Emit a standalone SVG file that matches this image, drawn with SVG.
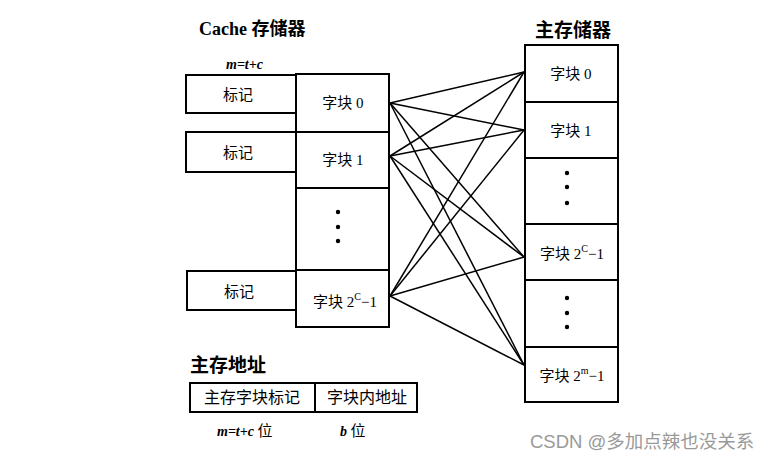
<svg xmlns="http://www.w3.org/2000/svg" width="776" height="461" viewBox="0 0 776 461">
<style>
.box{fill:#fff;stroke:#000;stroke-width:2}
.t{font-family:"Liberation Serif","Noto Sans CJK SC",serif;font-size:15px;fill:#000;text-anchor:middle}
.h{font-family:"Liberation Serif","Noto Sans CJK SC",serif;font-size:18px;fill:#000;font-weight:bold}
.i{font-family:"Liberation Serif","Noto Sans CJK SC",serif;font-size:14px;font-style:italic;font-weight:bold;fill:#000}
.c{stroke:#000;stroke-width:1.5;fill:none}
.dot{fill:#000}
</style>
<rect width="776" height="461" fill="#fff"/>
<text class="h" x="199" y="35">Cache 存储器</text>
<text class="h" x="535" y="37" style="font-size:19px">主存储器</text>
<text class="i" x="226" y="69">m=t+c</text>
<g id="connectors">
<line class="c" x1="390" y1="103" x2="524" y2="72"/>
<line class="c" x1="390" y1="103" x2="524" y2="130"/>
<line class="c" x1="390" y1="103" x2="524" y2="257"/>
<line class="c" x1="390" y1="103" x2="524" y2="365"/>
<line class="c" x1="390" y1="156" x2="524" y2="72"/>
<line class="c" x1="390" y1="156" x2="524" y2="130"/>
<line class="c" x1="390" y1="156" x2="524" y2="257"/>
<line class="c" x1="390" y1="156" x2="524" y2="365"/>
<line class="c" x1="390" y1="296" x2="524" y2="72"/>
<line class="c" x1="390" y1="296" x2="524" y2="130"/>
<line class="c" x1="390" y1="296" x2="524" y2="257"/>
<line class="c" x1="390" y1="296" x2="524" y2="365"/>
</g>
<g id="tag0"><rect class="box" x="186" y="75" width="110" height="38"/><text class="t" x="238" y="100">标记</text></g>
<g id="tag1"><rect class="box" x="186" y="132" width="110" height="40"/><text class="t" x="238" y="158">标记</text></g>
<g id="tag2"><rect class="box" x="187" y="271" width="109" height="39"/><text class="t" x="239" y="297">标记</text></g>
<g id="cblock0"><rect class="box" x="296" y="74" width="93" height="58"/><text class="t" x="343" y="108">字块 0</text></g>
<g id="cblock1"><rect class="box" x="296" y="132" width="93" height="56"/><text class="t" x="343" y="165">字块 1</text></g>
<g id="cdots"><rect class="box" x="296" y="188" width="93" height="82"/><circle class="dot" cx="338" cy="212" r="2.2"/><circle class="dot" cx="338" cy="227" r="2.2"/><circle class="dot" cx="338" cy="241" r="2.2"/></g>
<g id="cblockN"><rect class="box" x="296" y="270" width="93" height="57"/><text class="t" x="345" y="307">字块 2<tspan font-size="10" dy="-7">C</tspan><tspan dy="7">−1</tspan></text></g>
<g id="mblock0"><rect class="box" x="525" y="45" width="93" height="57"/><text class="t" x="571" y="79">字块 0</text></g>
<g id="mblock1"><rect class="box" x="525" y="102" width="93" height="56"/><text class="t" x="571" y="136">字块 1</text></g>
<g id="mdots1"><rect class="box" x="525" y="158" width="93" height="66"/><circle class="dot" cx="567" cy="173" r="2.2"/><circle class="dot" cx="567" cy="187" r="2.2"/><circle class="dot" cx="567" cy="203" r="2.2"/></g>
<g id="mblockC"><rect class="box" x="525" y="224" width="93" height="56"/><text class="t" x="572" y="259">字块 2<tspan font-size="10" dy="-7">C</tspan><tspan dy="7">−1</tspan></text></g>
<g id="mdots2"><rect class="box" x="525" y="280" width="93" height="67"/><circle class="dot" cx="567" cy="298" r="2.2"/><circle class="dot" cx="567" cy="313" r="2.2"/><circle class="dot" cx="567" cy="327" r="2.2"/></g>
<g id="mblockM"><rect class="box" x="525" y="347" width="93" height="55"/><text class="t" x="572" y="381">字块 2<tspan font-size="10" dy="-7">m</tspan><tspan dy="7">−1</tspan></text></g>
<text class="h" x="190" y="372" style="font-size:19px">主存地址</text>
<g id="addr"><rect class="box" x="190" y="383" width="125" height="29"/><text class="t" x="252" y="403" style="font-size:16px">主存字块标记</text><rect class="box" x="315" y="383" width="102" height="29"/><text class="t" x="367" y="403" style="font-size:16px">字块内地址</text></g>
<text class="i" x="217" y="436">m=t+c <tspan font-style="normal" font-weight="normal" font-size="15">位</tspan></text>
<text class="i" x="340" y="436">b <tspan font-style="normal" font-weight="normal" font-size="15">位</tspan></text>
<text x="530" y="448" style="font-family:'Liberation Sans','Noto Sans CJK SC',sans-serif;font-size:18.5px;fill:#999">CSDN @多加点辣也没关系</text>
</svg>
